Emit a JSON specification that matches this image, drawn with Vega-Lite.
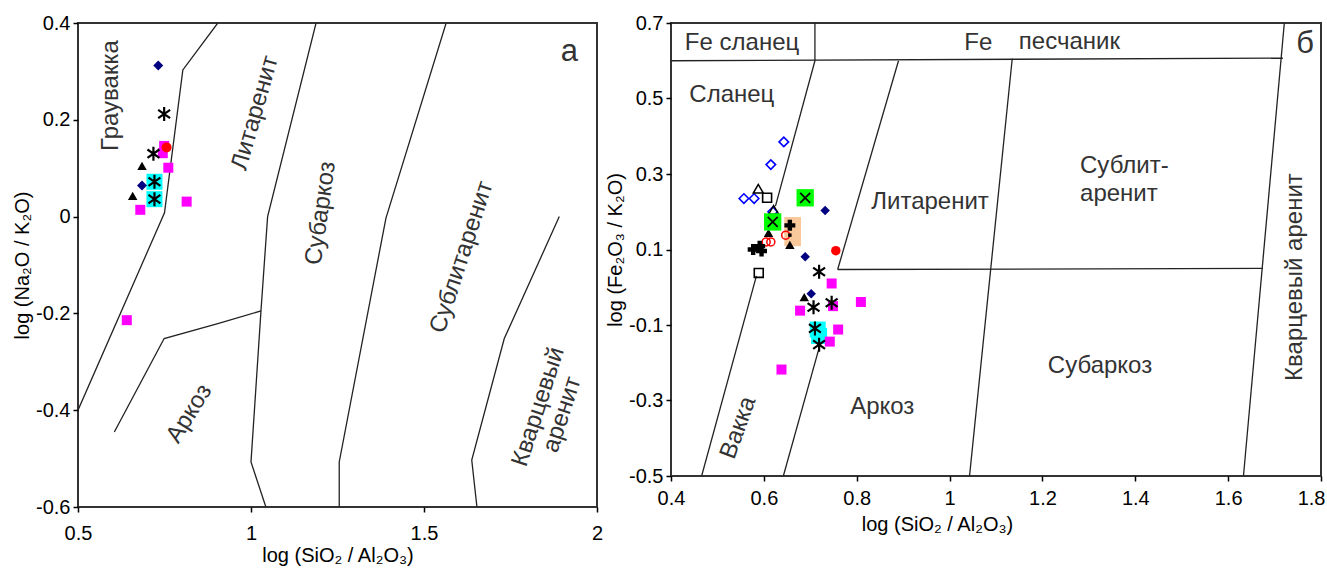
{
  "$schema": "https://vega.github.io/schema/vega-lite/v6.json",
  "padding": {"left": 11, "top": 12, "right": 0, "bottom": 0},
  "spacing": 0,
  "background": "white",
  "config": {
    "font": "Liberation Sans",
    "view": {"stroke": "#333", "strokeWidth": 2}
  },
  "datasets": {
    "linesA": [
      {"id": "a1", "o": 1, "x": 0.904, "y": 0.4}, {"id": "a1", "o": 2, "x": 0.803, "y": 0.303}, {"id": "a1", "o": 3, "x": 0.75, "y": 0.008}, {"id": "a1", "o": 4, "x": 0.5, "y": -0.4},
      {"id": "a2", "o": 1, "x": 0.605, "y": -0.445}, {"id": "a2", "o": 2, "x": 0.749, "y": -0.252}, {"id": "a2", "o": 3, "x": 0.904, "y": -0.221}, {"id": "a2", "o": 4, "x": 1.029, "y": -0.195},
      {"id": "a3", "o": 1, "x": 1.188, "y": 0.4}, {"id": "a3", "o": 2, "x": 1.048, "y": 0.0}, {"id": "a3", "o": 3, "x": 1.029, "y": -0.193}, {"id": "a3", "o": 4, "x": 1.0, "y": -0.507}, {"id": "a3", "o": 5, "x": 1.043, "y": -0.6},
      {"id": "a4", "o": 1, "x": 1.564, "y": 0.4}, {"id": "a4", "o": 2, "x": 1.39, "y": -0.003}, {"id": "a4", "o": 3, "x": 1.255, "y": -0.507}, {"id": "a4", "o": 4, "x": 1.255, "y": -0.6},
      {"id": "a5", "o": 1, "x": 1.891, "y": 0.0}, {"id": "a5", "o": 2, "x": 1.732, "y": -0.252}, {"id": "a5", "o": 3, "x": 1.638, "y": -0.503}, {"id": "a5", "o": 4, "x": 1.653, "y": -0.6}
    ],
    "linesB": [
      {"id": "b1", "o": 1, "x": 0.4, "y": 0.6}, {"id": "b1", "o": 2, "x": 1.718, "y": 0.607},
      {"id": "b2", "o": 1, "x": 0.71, "y": 0.7}, {"id": "b2", "o": 2, "x": 0.71, "y": 0.6},
      {"id": "b3", "o": 1, "x": 0.71, "y": 0.6}, {"id": "b3", "o": 2, "x": 0.625, "y": 0.215},
      {"id": "b3b", "o": 1, "x": 0.584, "y": 0.03}, {"id": "b3b", "o": 2, "x": 0.466, "y": -0.5},
      {"id": "b4", "o": 1, "x": 0.89, "y": 0.6}, {"id": "b4", "o": 2, "x": 0.759, "y": 0.047},
      {"id": "b4b", "o": 1, "x": 0.721, "y": -0.152}, {"id": "b4b", "o": 2, "x": 0.642, "y": -0.5},
      {"id": "b5", "o": 1, "x": 0.759, "y": 0.047}, {"id": "b5", "o": 2, "x": 1.675, "y": 0.05},
      {"id": "b6", "o": 1, "x": 1.135, "y": 0.606}, {"id": "b6", "o": 2, "x": 1.043, "y": -0.5},
      {"id": "b7", "o": 1, "x": 1.721, "y": 0.7}, {"id": "b7", "o": 2, "x": 1.633, "y": -0.5}
    ],
    "ptsA": [
      {"g": "mag", "x": 0.749, "y": 0.146}, {"g": "mag", "x": 0.745, "y": 0.131}, {"g": "mag", "x": 0.761, "y": 0.101},
      {"g": "mag", "x": 0.68, "y": 0.014}, {"g": "mag", "x": 0.814, "y": 0.031}, {"g": "mag", "x": 0.641, "y": -0.214},
      {"g": "cyan", "x": 0.721, "y": 0.072}, {"g": "cyan", "x": 0.721, "y": 0.036},
      {"g": "navy", "x": 0.732, "y": 0.312}, {"g": "navy", "x": 0.685, "y": 0.064},
      {"g": "tri", "x": 0.685, "y": 0.105}, {"g": "tri", "x": 0.658, "y": 0.043},
      {"g": "red", "x": 0.756, "y": 0.143},
      {"g": "ast", "x": 0.749, "y": 0.212}, {"g": "ast", "x": 0.718, "y": 0.13}, {"g": "ast", "x": 0.721, "y": 0.072}, {"g": "ast", "x": 0.721, "y": 0.036}
    ],
    "ptsB": [
      {"g": "peach", "x": 0.662, "y": 0.164}, {"g": "peach", "x": 0.662, "y": 0.131},
      {"g": "tri", "x": 0.656, "y": 0.112}, {"g": "tri", "x": 0.61, "y": 0.144}, {"g": "tri", "x": 0.687, "y": -0.026},
      {"g": "odia", "x": 0.643, "y": 0.385}, {"g": "odia", "x": 0.615, "y": 0.325}, {"g": "odia", "x": 0.557, "y": 0.235}, {"g": "odia", "x": 0.579, "y": 0.235}, {"g": "odia", "x": 0.619, "y": 0.2},
      {"g": "otri", "x": 0.588, "y": 0.261}, {"g": "otri", "x": 0.621, "y": 0.205},
      {"g": "osq", "x": 0.607, "y": 0.237}, {"g": "osq", "x": 0.589, "y": 0.038},
      {"g": "green", "x": 0.689, "y": 0.237}, {"g": "green", "x": 0.619, "y": 0.173},
      {"g": "cyan", "x": 0.716, "y": -0.112}, {"g": "cyan", "x": 0.719, "y": -0.129},
      {"g": "mag", "x": 0.746, "y": 0.01}, {"g": "mag", "x": 0.749, "y": -0.05}, {"g": "mag", "x": 0.809, "y": -0.039}, {"g": "mag", "x": 0.678, "y": -0.062},
      {"g": "mag", "x": 0.76, "y": -0.112}, {"g": "mag", "x": 0.742, "y": -0.144}, {"g": "mag", "x": 0.638, "y": -0.218},
      {"g": "navy", "x": 0.732, "y": 0.203}, {"g": "navy", "x": 0.689, "y": 0.081}, {"g": "navy", "x": 0.702, "y": -0.017},
      {"g": "red", "x": 0.755, "y": 0.097},
      {"g": "ocirc", "x": 0.605, "y": 0.12}, {"g": "ocirc", "x": 0.615, "y": 0.12}, {"g": "ocirc", "x": 0.647, "y": 0.138},
      {"g": "dot", "x": 0.656, "y": 0.138},
      {"g": "plus", "x": 0.656, "y": 0.164}, {"g": "plus", "x": 0.577, "y": 0.1}, {"g": "plus", "x": 0.591, "y": 0.109}, {"g": "plus", "x": 0.595, "y": 0.096},
      {"g": "ast", "x": 0.719, "y": 0.041}, {"g": "ast", "x": 0.707, "y": -0.053}, {"g": "ast", "x": 0.746, "y": -0.041}, {"g": "ast", "x": 0.71, "y": -0.109}, {"g": "ast", "x": 0.719, "y": -0.152}
    ],
    "labA": [
      {"k": "gr", "t": "Граувакка", "x": 0.595, "y": 0.25},
      {"k": "lit", "t": "Литаренит", "x": 1.012, "y": 0.214},
      {"k": "sub", "t": "Субаркоз", "x": 1.202, "y": 0.007},
      {"k": "sublit", "t": "Сублитаренит", "x": 1.609, "y": -0.084},
      {"k": "kv", "t": "Кварцевый\nаренит", "x": 1.831, "y": -0.393},
      {"k": "ark", "t": "Аркоз", "x": 0.822, "y": -0.407},
      {"k": "let", "t": "а", "x": 1.92, "y": 0.341}
    ],
    "labB": [
      {"k": "h", "t": "Fe сланец", "x": 0.553, "y": 0.647},
      {"k": "h", "t": "Fe", "x": 1.062, "y": 0.647},
      {"k": "h", "t": "песчаник", "x": 1.258, "y": 0.649},
      {"k": "h", "t": "Сланец", "x": 0.531, "y": 0.509},
      {"k": "h", "t": "Литаренит", "x": 0.958, "y": 0.226},
      {"k": "h", "t": "Субаркоз", "x": 1.324, "y": -0.208},
      {"k": "h", "t": "Аркоз", "x": 0.855, "y": -0.316},
      {"k": "sl", "t": "Сублит-\nаренит", "x": 1.281, "y": 0.321},
      {"k": "kv", "t": "Кварцевый  аренит", "x": 1.745, "y": 0.027},
      {"k": "vk", "t": "Вакка", "x": 0.545, "y": -0.372},
      {"k": "let", "t": "б", "x": 1.766, "y": 0.645}
    ]
  },
  "hconcat": [
    {
      "width": 519, "height": 484,
      "encoding": {
        "x": {"field": "x", "type": "quantitative", "scale": {"domain": [0.5, 2], "nice": false, "zero": false},
              "axis": {"values": [0.5, 1, 1.5, 2], "title": "log (SiO₂ / Al₂O₃)", "grid": false, "domain": false, "tickColor": "#000", "tickSize": 5, "tickWidth": 1.5,
                       "labelFontSize": 20, "labelColor": "#000", "labelPadding": 11, "labelFlush": false, "labelOverlap": false,
                       "titleFontSize": 20, "titleFontWeight": "normal", "titleColor": "#000", "titlePadding": 2, "labelExpr": "toString(datum.value)"}},
        "y": {"field": "y", "type": "quantitative", "scale": {"domain": [-0.6, 0.4], "nice": false, "zero": false},
              "axis": {"values": [-0.6, -0.4, -0.2, 0, 0.2, 0.4], "title": "log (Na₂O / K₂O)", "grid": false, "domain": false, "tickColor": "#000", "tickSize": 5, "tickWidth": 1.5,
                       "labelFontSize": 20, "labelColor": "#000", "labelPadding": 3, "labelFlush": false, "labelOverlap": false,
                       "titleFontSize": 20, "titleFontWeight": "normal", "titleColor": "#000", "titlePadding": 3, "labelExpr": "toString(datum.value)"}}
      },
      "layer": [
        {"data": {"name": "linesA"}, "mark": {"type": "line", "stroke": "#222", "strokeWidth": 1.3, "clip": true},
         "encoding": {"detail": {"field": "id"}, "order": {"field": "o"}}},
        {"data": {"name": "ptsA"}, "transform": [{"filter": "datum.g=='mag'"}], "mark": {"type": "point", "shape": "square", "filled": true, "color": "#ff00ff", "size": 100, "opacity": 1}},
        {"data": {"name": "ptsA"}, "transform": [{"filter": "datum.g=='cyan'"}], "mark": {"type": "point", "shape": "square", "filled": true, "color": "#00ffff", "size": 256, "opacity": 1}},
        {"data": {"name": "ptsA"}, "transform": [{"filter": "datum.g=='navy'"}], "mark": {"type": "point", "shape": "diamond", "filled": true, "color": "#000080", "size": 100, "opacity": 1}},
        {"data": {"name": "ptsA"}, "transform": [{"filter": "datum.g=='tri'"}], "mark": {"type": "point", "shape": "triangle-up", "filled": true, "color": "#000", "size": 90, "opacity": 1}},
        {"data": {"name": "ptsA"}, "transform": [{"filter": "datum.g=='red'"}], "mark": {"type": "point", "shape": "circle", "filled": true, "color": "#ff0000", "size": 100, "opacity": 1}},
        {"data": {"name": "ptsA"}, "transform": [{"filter": "datum.g=='ast'"}], "mark": {"type": "point", "shape": "M0,-1L0,1M-0.85,-0.6L0.85,0.6M-0.85,0.6L0.85,-0.6", "filled": false, "color": "#000", "strokeWidth": 2.2, "size": 196, "opacity": 1}},
        {"data": {"name": "labA"}, "transform": [{"filter": "datum.k=='gr'"}], "mark": {"type": "text", "angle": 270, "fontSize": 24, "fill": "#333", "align": "center", "baseline": "middle"}, "encoding": {"text": {"field": "t"}}},
        {"data": {"name": "labA"}, "transform": [{"filter": "datum.k=='lit'"}], "mark": {"type": "text", "angle": 286, "fontSize": 24, "fill": "#333", "align": "center", "baseline": "middle"}, "encoding": {"text": {"field": "t"}}},
        {"data": {"name": "labA"}, "transform": [{"filter": "datum.k=='sub'"}], "mark": {"type": "text", "angle": 278, "fontSize": 24, "fill": "#333", "align": "center", "baseline": "middle"}, "encoding": {"text": {"field": "t"}}},
        {"data": {"name": "labA"}, "transform": [{"filter": "datum.k=='sublit'"}], "mark": {"type": "text", "angle": 288, "fontSize": 24, "fill": "#333", "align": "center", "baseline": "middle"}, "encoding": {"text": {"field": "t"}}},
        {"data": {"name": "labA"}, "transform": [{"filter": "datum.k=='kv'"}], "mark": {"type": "text", "angle": 288, "fontSize": 24, "fill": "#333", "align": "center", "baseline": "middle", "lineBreak": "\n", "lineHeight": 25}, "encoding": {"text": {"field": "t"}}},
        {"data": {"name": "labA"}, "transform": [{"filter": "datum.k=='ark'"}], "mark": {"type": "text", "angle": 302, "fontSize": 24, "fill": "#333", "align": "center", "baseline": "middle"}, "encoding": {"text": {"field": "t"}}},
        {"data": {"name": "labA"}, "transform": [{"filter": "datum.k=='let'"}], "mark": {"type": "text", "fontSize": 31, "fill": "#333", "align": "center", "baseline": "middle"}, "encoding": {"text": {"field": "t"}}}
      ]
    },
    {
      "width": 650, "height": 453,
      "encoding": {
        "x": {"field": "x", "type": "quantitative", "scale": {"domain": [0.4, 1.8], "nice": false, "zero": false},
              "axis": {"values": [0.4, 0.6, 0.8, 1, 1.2, 1.4, 1.6, 1.8], "title": "log (SiO₂ / Al₂O₃)", "titleX": 266, "grid": false, "domain": false, "tickColor": "#000", "tickSize": 5, "tickWidth": 1.5,
                       "labelFontSize": 20, "labelColor": "#000", "labelPadding": 7, "labelFlush": false, "labelOverlap": false,
                       "labelAlign": {"condition": {"test": "datum.value == 1.8", "value": "right"}, "value": "center"},
                       "labelOffset": {"condition": {"test": "datum.value == 1.8", "value": 4}, "value": 0},
                       "titleFontSize": 20, "titleFontWeight": "normal", "titleColor": "#000", "titlePadding": 6, "labelExpr": "toString(datum.value)"}},
        "y": {"field": "y", "type": "quantitative", "scale": {"domain": [-0.5, 0.7], "nice": false, "zero": false},
              "axis": {"values": [-0.5, -0.3, -0.1, 0.1, 0.3, 0.5, 0.7], "title": "log (Fe₂O₃ / K₂O)", "grid": false, "domain": false, "tickColor": "#000", "tickSize": 5, "tickWidth": 1.5,
                       "labelFontSize": 20, "labelColor": "#000", "labelPadding": 3, "labelFlush": false, "labelOverlap": false,
                       "titleFontSize": 20, "titleFontWeight": "normal", "titleColor": "#000", "titlePadding": 3, "labelExpr": "toString(datum.value)"}}
      },
      "layer": [
        {"data": {"name": "linesB"}, "mark": {"type": "line", "stroke": "#222", "strokeWidth": 1.3, "clip": true},
         "encoding": {"detail": {"field": "id"}, "order": {"field": "o"}}},
        {"data": {"name": "ptsB"}, "transform": [{"filter": "datum.g=='peach'"}], "mark": {"type": "point", "shape": "square", "filled": true, "color": "#f9c89b", "size": 280, "opacity": 1}},
        {"data": {"name": "ptsB"}, "transform": [{"filter": "datum.g=='tri'"}], "mark": {"type": "point", "shape": "triangle-up", "filled": true, "color": "#000", "size": 90, "opacity": 1}},
        {"data": {"name": "ptsB"}, "transform": [{"filter": "datum.g=='odia'"}], "mark": {"type": "point", "shape": "diamond", "filled": false, "color": "#0000ff", "strokeWidth": 1.6, "size": 90, "opacity": 1}},
        {"data": {"name": "ptsB"}, "transform": [{"filter": "datum.g=='otri'"}], "mark": {"type": "point", "shape": "triangle-up", "filled": false, "color": "#000", "strokeWidth": 1.5, "size": 100, "opacity": 1}},
        {"data": {"name": "ptsB"}, "transform": [{"filter": "datum.g=='osq'"}], "mark": {"type": "point", "shape": "square", "filled": false, "color": "#000", "strokeWidth": 1.6, "size": 80, "opacity": 1}},
        {"data": {"name": "ptsB"}, "transform": [{"filter": "datum.g=='green'"}], "mark": {"type": "point", "shape": "square", "filled": true, "color": "#00ff00", "size": 300, "opacity": 1}},
        {"data": {"name": "ptsB"}, "transform": [{"filter": "datum.g=='green'"}], "mark": {"type": "point", "shape": "M-1,-1L1,1M-1,1L1,-1", "filled": false, "color": "#000", "strokeWidth": 1.8, "size": 100, "opacity": 1}},
        {"data": {"name": "ptsB"}, "transform": [{"filter": "datum.g=='cyan'"}], "mark": {"type": "point", "shape": "square", "filled": true, "color": "#00ffff", "size": 256, "opacity": 1}},
        {"data": {"name": "ptsB"}, "transform": [{"filter": "datum.g=='mag'"}], "mark": {"type": "point", "shape": "square", "filled": true, "color": "#ff00ff", "size": 100, "opacity": 1}},
        {"data": {"name": "ptsB"}, "transform": [{"filter": "datum.g=='navy'"}], "mark": {"type": "point", "shape": "diamond", "filled": true, "color": "#000080", "size": 90, "opacity": 1}},
        {"data": {"name": "ptsB"}, "transform": [{"filter": "datum.g=='red'"}], "mark": {"type": "point", "shape": "circle", "filled": true, "color": "#ff0000", "size": 90, "opacity": 1}},
        {"data": {"name": "ptsB"}, "transform": [{"filter": "datum.g=='ocirc'"}], "mark": {"type": "point", "shape": "circle", "filled": false, "color": "#ff0000", "strokeWidth": 1.5, "size": 64, "opacity": 1}},
        {"data": {"name": "ptsB"}, "transform": [{"filter": "datum.g=='dot'"}], "mark": {"type": "point", "shape": "square", "filled": true, "color": "#000", "size": 12, "opacity": 1}},
        {"data": {"name": "ptsB"}, "transform": [{"filter": "datum.g=='plus'"}], "mark": {"type": "point", "shape": "cross", "filled": true, "color": "#000", "size": 120, "opacity": 1}},
        {"data": {"name": "ptsB"}, "transform": [{"filter": "datum.g=='ast'"}], "mark": {"type": "point", "shape": "M0,-1L0,1M-0.85,-0.6L0.85,0.6M-0.85,0.6L0.85,-0.6", "filled": false, "color": "#000", "strokeWidth": 2.2, "size": 196, "opacity": 1}},
        {"data": {"name": "labB"}, "transform": [{"filter": "datum.k=='h'"}], "mark": {"type": "text", "fontSize": 24, "fill": "#333", "align": "center", "baseline": "middle"}, "encoding": {"text": {"field": "t"}}},
        {"data": {"name": "labB"}, "transform": [{"filter": "datum.k=='sl'"}], "mark": {"type": "text", "fontSize": 24, "fill": "#333", "align": "left", "baseline": "middle", "lineBreak": "\n", "lineHeight": 28}, "encoding": {"text": {"field": "t"}}},
        {"data": {"name": "labB"}, "transform": [{"filter": "datum.k=='kv'"}], "mark": {"type": "text", "angle": 270, "fontSize": 24, "fill": "#333", "align": "center", "baseline": "middle"}, "encoding": {"text": {"field": "t"}}},
        {"data": {"name": "labB"}, "transform": [{"filter": "datum.k=='vk'"}], "mark": {"type": "text", "angle": 290, "fontSize": 24, "fill": "#333", "align": "center", "baseline": "middle"}, "encoding": {"text": {"field": "t"}}},
        {"data": {"name": "labB"}, "transform": [{"filter": "datum.k=='let'"}], "mark": {"type": "text", "fontSize": 31, "fill": "#333", "align": "center", "baseline": "middle"}, "encoding": {"text": {"field": "t"}}}
      ]
    }
  ]
}
